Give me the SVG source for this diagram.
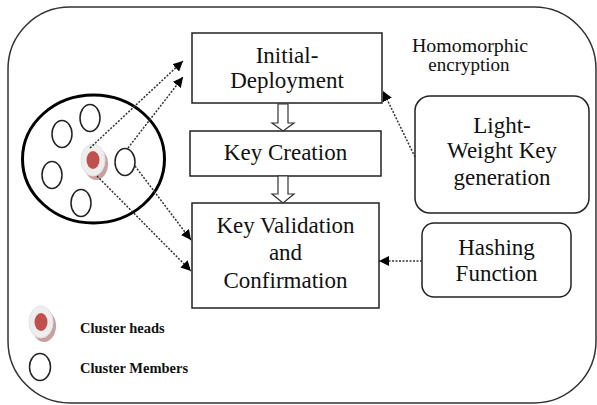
<svg xmlns="http://www.w3.org/2000/svg" width="597" height="405" viewBox="0 0 597 405">
  <defs>
    <marker id="arrow" viewBox="0 0 10 10" refX="10" refY="5" markerWidth="10" markerHeight="10" markerUnits="userSpaceOnUse" orient="auto">
      <path d="M0,0 L10,5 L0,10 z" fill="#000"/>
    </marker>
    <style>
      .box { fill: #fff; stroke: #222; stroke-width: 1.5; }
      .lbl { font-family: "Liberation Serif", "Times New Roman", serif; font-size: 23px; fill: #111; text-anchor: middle; }
      .note { font-family: "Liberation Serif", "Times New Roman", serif; font-size: 19px; fill: #111; text-anchor: middle; }
      .legend { font-family: "Liberation Serif", "Times New Roman", serif; font-size: 14.5px; font-weight: bold; fill: #111; }
      .member { fill: #fff; stroke: #222; stroke-width: 1.5; }
      .dot { fill: none; stroke: #333; stroke-width: 1.5; stroke-dasharray: 2 1.5; marker-end: url(#arrow); }
      .hollow { fill: #fff; stroke: #333; stroke-width: 1.2; }
    </style>
  </defs>

  <rect width="597" height="405" fill="#fff"/>

  <!-- outer frame -->
  <rect x="8" y="7" width="588" height="396" rx="62" ry="62" fill="none" stroke="#333" stroke-width="1.5"/>

  <!-- cluster -->
  <g id="cluster">
    <ellipse cx="93.5" cy="159" rx="71" ry="64" fill="#fff" stroke="#000" stroke-width="3"/>
    <ellipse class="member" cx="90" cy="118" rx="10" ry="13.5"/>
    <ellipse class="member" cx="62" cy="134" rx="10" ry="13.5"/>
    <ellipse class="member" cx="52" cy="175" rx="10" ry="13.5"/>
    <ellipse class="member" cx="81" cy="203" rx="10" ry="13.5"/>
    <ellipse class="member" cx="125" cy="162" rx="10" ry="13.5"/>
    <ellipse cx="96" cy="164" rx="12" ry="16" fill="#c9a0a0"/>
    <ellipse cx="93" cy="160" rx="12" ry="16" fill="#eeeeee" stroke="#e2e2e2" stroke-width="1"/>
    <ellipse cx="93" cy="160" rx="6.5" ry="9" fill="#c0504d"/>
  </g>

  <g id="initial-deployment">
    <rect class="box" x="192" y="33" width="190" height="70"/>
    <text class="lbl" x="287" y="63">Initial-</text>
    <text class="lbl" x="287" y="88">Deployment</text>
  </g>

  <g id="key-creation">
    <rect class="box" x="190" y="131" width="191" height="45"/>
    <text class="lbl" x="285.5" y="160">Key Creation</text>
  </g>

  <g id="key-validation">
    <rect class="box" x="192" y="203" width="187" height="105"/>
    <text class="lbl" x="285.5" y="233">Key Validation</text>
    <text class="lbl" x="285.5" y="260">and</text>
    <text class="lbl" x="285.5" y="288">Confirmation</text>
  </g>

  <g id="homomorphic-note">
    <text class="note" x="470" y="52" textLength="116" lengthAdjust="spacingAndGlyphs">Homomorphic</text>
    <text class="note" x="469" y="71">encryption</text>
  </g>

  <g id="lightweight-key">
    <rect class="box" x="415" y="96" width="174" height="117" rx="15" ry="15"/>
    <text class="lbl" x="502" y="133">Light-</text>
    <text class="lbl" x="502" y="158">Weight Key</text>
    <text class="lbl" x="502" y="185">generation</text>
  </g>

  <g id="hashing">
    <rect class="box" x="422" y="223" width="149" height="74" rx="12" ry="12"/>
    <text class="lbl" x="496.5" y="255">Hashing</text>
    <text class="lbl" x="496.5" y="281">Function</text>
  </g>

  <g id="legend">
    <ellipse cx="44" cy="326" rx="12" ry="16" fill="#c9a0a0"/>
    <ellipse cx="41" cy="322" rx="12" ry="16" fill="#eeeeee" stroke="#e2e2e2" stroke-width="1"/>
    <ellipse cx="41" cy="322" rx="6.5" ry="9" fill="#c0504d"/>
    <text class="legend" x="80" y="333">Cluster heads</text>
    <ellipse class="member" cx="40" cy="367" rx="10.5" ry="13.5"/>
    <text class="legend" x="80" y="373">Cluster Members</text>
  </g>

  <g id="connectors">
    <!-- flow between the stacked stages -->
    <path class="hollow" d="M278,104 L278,123 L272,123 L283,131 L294,123 L288,123 L288,104 Z"/>
    <path class="hollow" d="M278,176 L278,194 L272,194 L283,203 L294,194 L288,194 L288,176 Z"/>
    <!-- cluster links -->
    <path class="dot" d="M90,148 L183,61"/>
    <path class="dot" d="M128,148 L183,77"/>
    <path class="dot" d="M135,166 L191,240"/>
    <path class="dot" d="M97,176 L191,271"/>
    <!-- side inputs -->
    <path class="dot" d="M415,157 L383,91"/>
    <path class="dot" d="M422,261 L379,261"/>
  </g>
</svg>
